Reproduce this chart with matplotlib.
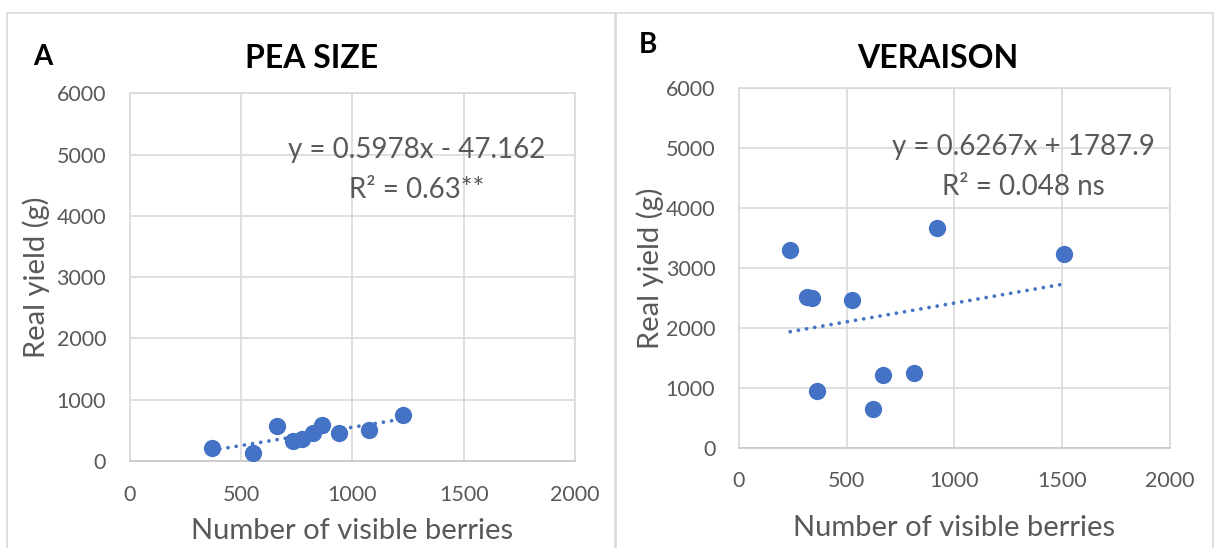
import matplotlib
matplotlib.use("Agg")
import matplotlib.pyplot as plt
import numpy as np
from matplotlib.patches import Rectangle

# ---- data ----
pea_x = [368, 553, 663, 732, 773, 825, 865, 940, 1074, 1229]
pea_y = [207, 126, 571, 331, 354, 462, 587, 452, 506, 751]
ver_x = [238, 317, 338, 526, 917, 1509, 361, 623, 670, 812]
ver_y = [3296, 2521, 2504, 2471, 3668, 3239, 952, 646, 1219, 1252]
pea_fit = (0.5978, -47.162)
ver_fit = (0.6267, 1787.9)
pea_eq = ["y = 0.5978x - 47.162", "R² = 0.63**"]
ver_eq = ["y = 0.6267x + 1787.9", "R² = 0.048 ns"]
titles = ["PEA SIZE", "VERAISON"]
letters = ["A", "B"]
xticks = [0, 500, 1000, 1500, 2000]
yticks = [0, 1000, 2000, 3000, 4000, 5000, 6000]

FONT = "Lato"
TXT = "#595959"
GRID = "#d9d9d9"
BLUE = "#4472C4"

fig = plt.figure(figsize=(12.14, 5.48), dpi=100)
W, H = 1214, 548

def fx(px):
    return px / W

def fy(py):
    return 1 - py / H

# panel borders
fig.patches.append(Rectangle((fx(7), fy(560)), fx(615 - 7), fy(13) - fy(560),
                             transform=fig.transFigure, fill=False,
                             edgecolor=GRID, lw=1.2))
fig.patches.append(Rectangle((fx(616), fy(560)), fx(1213 - 616), fy(13) - fy(560),
                             transform=fig.transFigure, fill=False,
                             edgecolor=GRID, lw=1.2))

panels = [
    dict(x=pea_x, y=pea_y, fit=pea_fit, eq=pea_eq, box=(129.7, 93.3, 575, 461),
         eqpos=(417, 150, 190), title=titles[0], tpos=(312, 58), letter=letters[0],
         lpos=(43, 57), ylab=36, xlab=531, xtick_pad=17),
    dict(x=ver_x, y=ver_y, fit=ver_fit, eq=ver_eq, box=(738.9, 88.3, 1170, 447.7),
         eqpos=(1023, 147, 187), title=titles[1], tpos=(938, 58), letter=letters[1],
         lpos=(648, 45), ylab=650, xlab=528, xtick_pad=17),
]

for p in panels:
    x0, y0, x1, y1 = p["box"]
    ax = fig.add_axes([fx(x0), fy(y1), fx(x1 - x0), fy(y0) - fy(y1)])
    ax.set_xlim(0, 2000)
    ax.set_ylim(0, 6000)
    ax.set_xticks(xticks)
    ax.set_yticks(yticks)
    ax.grid(True, color=GRID, lw=1.2)
    ax.set_axisbelow(True)
    for s in ax.spines.values():
        s.set_color(GRID)
        s.set_linewidth(1.2)
    ax.spines["bottom"].set_color("#c8c8c8")
    ax.tick_params(length=0, labelsize=15.5, labelcolor=TXT, pad=p["xtick_pad"])
    ax.tick_params(axis="y", pad=17)
    for lab in ax.get_xticklabels() + ax.get_yticklabels():
        lab.set_family(FONT)

    xs = np.array(p["x"], dtype=float)
    ax.scatter(xs, p["y"], s=155, color=BLUE, zorder=3, linewidths=0)
    xl = np.array([xs.min(), xs.max()])
    a, b = p["fit"]
    ax.plot(xl, a * xl + b, color=BLUE, lw=2.7, linestyle=(0, (0.01, 2.2)),
            dash_capstyle="round", zorder=2)

    ex, e1, e2 = p["eqpos"]
    fig.text(fx(ex), fy(e1), p["eq"][0], ha="center", va="center",
             fontsize=20, color=TXT, family=FONT)
    fig.text(fx(ex), fy(e2), p["eq"][1], ha="center", va="center",
             fontsize=20, color=TXT, family=FONT)

    fig.text(fx(p["tpos"][0]), fy(p["tpos"][1]), p["title"], ha="center",
             va="center", fontsize=23, fontweight="bold", color="black", family=FONT)
    fig.text(fx(p["lpos"][0]), fy(p["lpos"][1]), p["letter"], ha="center",
             va="center", fontsize=20, fontweight="bold", color="black", family=FONT)
    fig.text(fx(p["ylab"]), fy((y0 + y1) / 2), "Real yield (g)", ha="center",
             va="center", rotation=90, fontsize=21, color=TXT, family=FONT)
    fig.text(fx((x0 + x1) / 2), fy(p["xlab"]), "Number of visible berries",
             ha="center", va="center", fontsize=21, color=TXT, family=FONT)

fig.savefig("out.png", dpi=100, facecolor="white")
